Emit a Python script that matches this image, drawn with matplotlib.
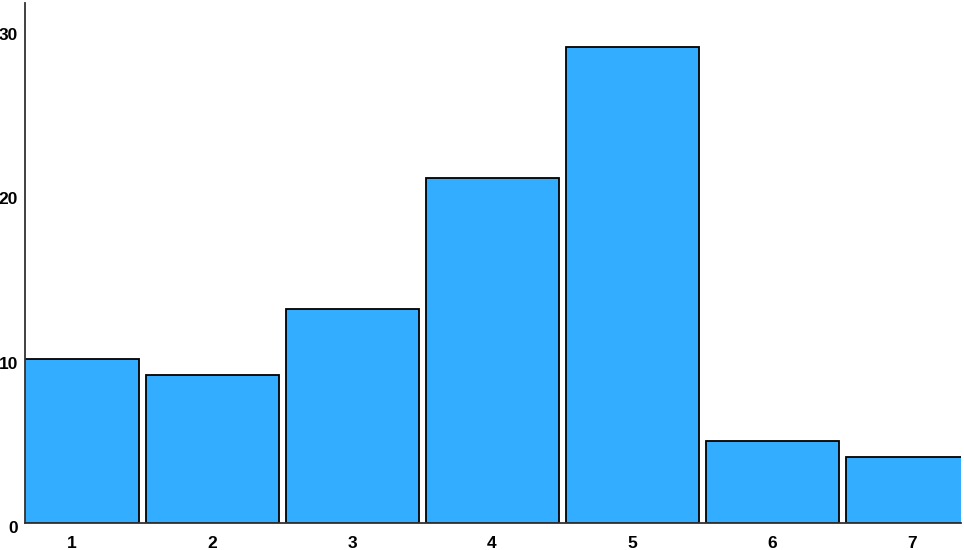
import matplotlib
matplotlib.use("Agg")
import matplotlib.pyplot as plt
import matplotlib.transforms as mtransforms

# values
categories = [1, 2, 3, 4, 5, 6, 7]
counts = [10, 9, 13, 21, 29, 5, 4]
y_ticks = [0, 10, 20, 30]

plt.rcParams['font.family'] = ['Liberation Sans', 'DejaVu Sans']

fig = plt.figure(figsize=(9.64, 5.5), dpi=100)
ax = fig.add_axes([25 / 964, 27 / 550, 936 / 964, 520 / 550])

ax.bar(categories, counts, width=0.95, color='#33adff',
       edgecolor='black', linewidth=1.3)

ax.set_xlim(0.664, 7.35)
ax.set_ylim(0, 31.65)
ax.set_xticks(categories)
ax.set_yticks(y_ticks)
ax.tick_params(length=0, labelsize=12.5)
ax.tick_params(axis='x', pad=9)
ax.tick_params(axis='y', pad=5)

# labels in the reference sit a few pixels below their gridline value
shift = mtransforms.ScaledTranslation(0, -4 / 100, fig.dpi_scale_trans)
for lbl in ax.get_yticklabels():
    lbl.set_transform(lbl.get_transform() + shift)
for lbl in ax.get_xticklabels() + ax.get_yticklabels():
    lbl.set_fontweight('bold')

for side in ['top', 'right']:
    ax.spines[side].set_visible(False)
for side in ['left', 'bottom']:
    ax.spines[side].set_color('#333333')
    ax.spines[side].set_linewidth(1.3)

fig.savefig("out.png", dpi=100)
